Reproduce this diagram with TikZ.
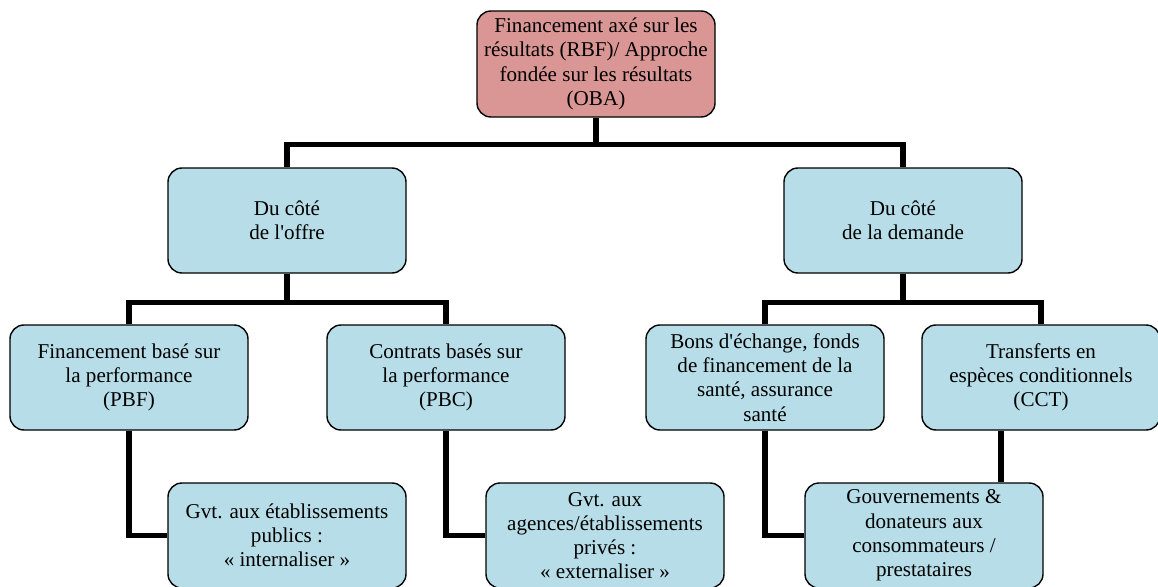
\documentclass[tikz,border=0pt]{standalone}
\usepackage{fontspec}
\setmainfont{Liberation Serif}
\definecolor{resred}{RGB}{217, 150, 148}
\definecolor{sideblue}{RGB}{183, 222, 232}

\begin{document}
\begin{tikzpicture}[
    box/.style={rectangle, rounded corners=0.35cm, draw, line width=1pt, fill=sideblue,
                minimum width=5.95cm, minimum height=2.625cm, inner sep=1pt,
                align=center, font=\fontsize{15}{17.25}\selectfont},
    link/.style={line width=3.8pt}]
    \useasboundingbox (0, 0) rectangle (28.95, 14.65);

    \node[box, fill=resred, minimum height=2.65cm] (rbf) at (14.9, 13.05) {Financement axé sur les\\résultats (RBF)/ Approche\\fondée sur les résultats\\(OBA)};

    \node[box] (offre) at (7.175, 9.1375) {Du côté\\de l\textquotesingle offre};
    \node[box] (demande) at (22.575, 9.1375) {Du côté\\de la demande};

    \node[box] (pbf) at (3.225, 5.2125) {Financement basé sur\\la performance\\(PBF)};
    \node[box] (pbc) at (11.15, 5.2125) {Contrats basés sur\\la performance\\(PBC)};
    \node[box] (bons) at (19.125, 5.2125) {Bons d\textquotesingle échange, fonds\\de financement de la\\santé, assurance\\santé};
    \node[box] (cct) at (26.025, 5.2125) {Transferts en\\espèces conditionnels\\(CCT)};

    \node[box] (public) at (7.175, 1.2625) {Gvt. aux établissements\\publics :\\« internaliser »};
    \node[box] (prive) at (15.125, 1.2625) {Gvt. aux\\agences/établissements\\privés :\\« externaliser »};
    \node[box] (gouv) at (23.1, 1.2625) {Gouvernements \&\\donateurs aux\\consommateurs /\\prestataires};

    \draw[link] (rbf.south) -- ++(0, -0.675) -| (offre.north);
    \draw[link] (rbf.south) -- ++(0, -0.675) -| (demande.north);
    \draw[link] (offre.south) -- ++(0, -0.725) -| (pbf.north);
    \draw[link] (offre.south) -- ++(0, -0.725) -| (pbc.north);
    \draw[link] (demande.south) -- ++(0, -0.725) -| (bons.north);
    \draw[link] (demande.south) -- ++(0, -0.725) -| (cct.north);

    \draw[link] (pbf.south) |- (public.west);
    \draw[link] (pbc.south) |- (prive.west);
    \draw[link] (bons.south) |- (gouv.west);
    \coordinate (cctdrop) at ([xshift=-1cm]cct.south);
    \draw[link] (cctdrop) -- (cctdrop |- gouv.north);
\end{tikzpicture}
\end{document}
